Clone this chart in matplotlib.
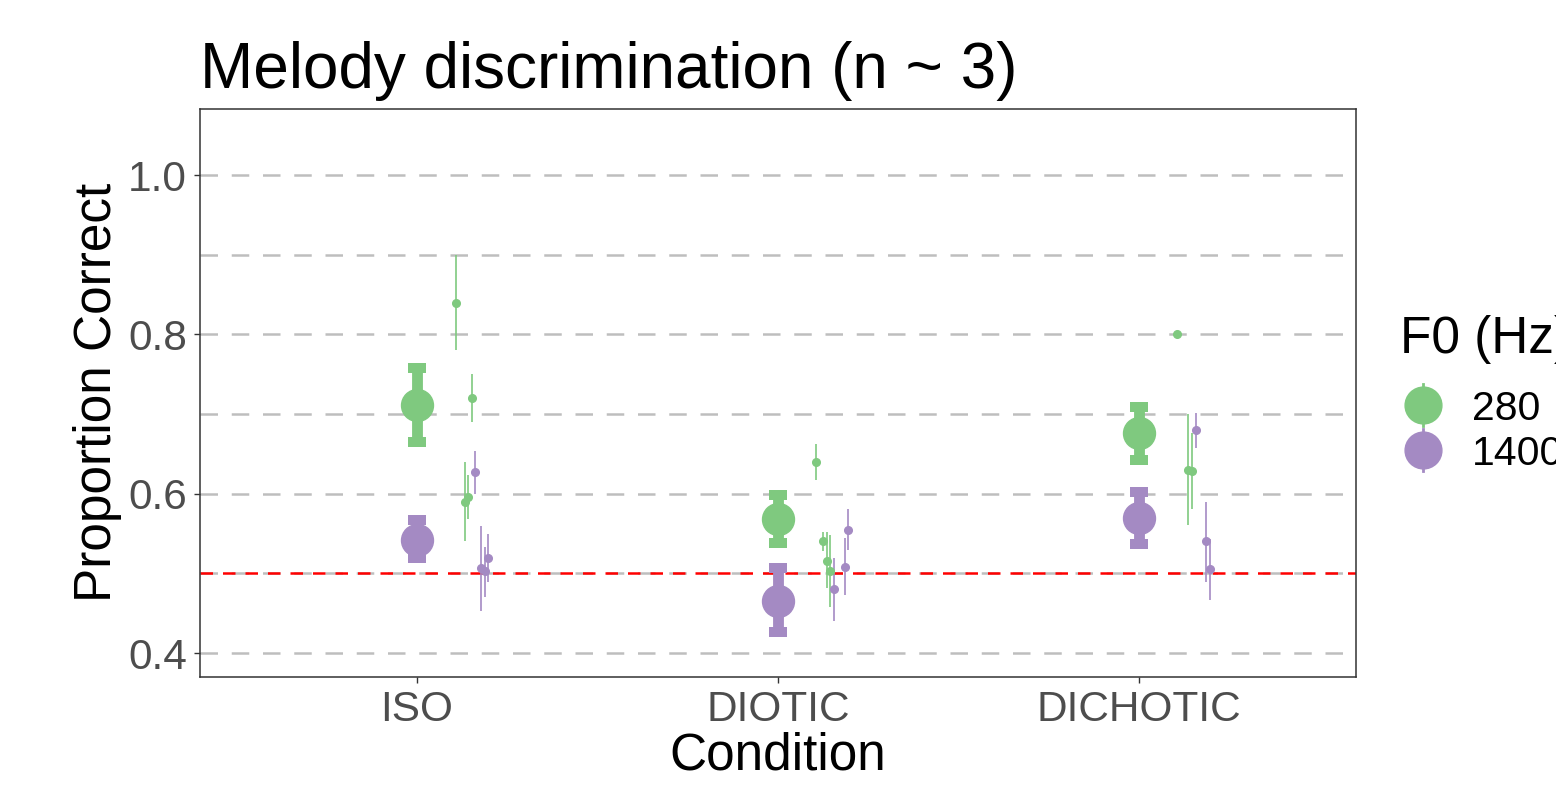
import matplotlib.pyplot as plt
from matplotlib.lines import Line2D
import numpy as np

plt.rcParams['font.family'] = ['Liberation Sans', 'DejaVu Sans']

conditions = ["ISO", "DIOTIC", "DICHOTIC"]
f0_labels = ["280", "1400"]
colours = ["#7FC97F", "#A48AC3"]

# group means with error bar ends
mean_280 = [0.711, 0.568, 0.676]
lo_280 = [0.665, 0.538, 0.643]
hi_280 = [0.758, 0.598, 0.709]
mean_1400 = [0.542, 0.466, 0.569]
lo_1400 = [0.519, 0.426, 0.537]
hi_1400 = [0.567, 0.507, 0.602]

# individual listeners (condition index, jitter, value, low, high)
subj_280_cond = [0, 0, 0, 0, 1, 1, 1, 1, 2, 2, 2]
subj_280_jit = [0.108, 0.152, 0.133, 0.142, 0.105, 0.125, 0.135, 0.144, 0.105, 0.136, 0.147]
subj_280_val = [0.840, 0.720, 0.590, 0.596, 0.640, 0.541, 0.516, 0.503, 0.800, 0.630, 0.628]
subj_280_lo = [0.780, 0.690, 0.541, 0.568, 0.617, 0.528, 0.482, 0.458, 0.800, 0.561, 0.581]
subj_280_hi = [0.900, 0.750, 0.640, 0.623, 0.663, 0.552, 0.552, 0.548, 0.800, 0.700, 0.676]

subj_1400_cond = [0, 0, 0, 0, 1, 1, 1, 2, 2, 2]
subj_1400_jit = [0.161, 0.179, 0.189, 0.197, 0.156, 0.185, 0.194, 0.157, 0.186, 0.195]
subj_1400_val = [0.627, 0.507, 0.503, 0.520, 0.480, 0.508, 0.555, 0.680, 0.541, 0.5055]
subj_1400_lo = [0.600, 0.453, 0.470, 0.489, 0.440, 0.473, 0.530, 0.657, 0.489, 0.4665]
subj_1400_hi = [0.654, 0.559, 0.533, 0.550, 0.520, 0.544, 0.581, 0.702, 0.590, 0.543]

W, H = 1556, 801
fig = plt.figure(figsize=(W / 100, H / 100), dpi=100)
ax = fig.add_axes([200 / W, 1 - 677 / H, 1156 / W, 568 / H])

for v in np.arange(0.4, 1.05, 0.1):
    ax.axhline(v, color="#BEBEBE", lw=1.8, dashes=(7, 5.5), zorder=0)
ax.axhline(0.5, color="red", lw=1.8, dashes=(5, 4), zorder=1)

x = np.arange(1, len(conditions) + 1)
groups = [
    (mean_280, lo_280, hi_280, subj_280_cond, subj_280_jit, subj_280_val, subj_280_lo, subj_280_hi),
    (mean_1400, lo_1400, hi_1400, subj_1400_cond, subj_1400_jit, subj_1400_val, subj_1400_lo, subj_1400_hi),
]
for (m, lo, hi, sc, sj, sv, slo, shi), col in zip(groups, colours):
    m, lo, hi = np.array(m), np.array(lo), np.array(hi)
    ax.errorbar(x, m, yerr=[m - lo, hi - m], fmt='o', color=col, ms=23,
                elinewidth=7.8, capsize=6.5, capthick=7.2, zorder=3)
    sx = x[np.array(sc)] + np.array(sj)
    sv, slo, shi = np.array(sv), np.array(slo), np.array(shi)
    ax.errorbar(sx, sv, yerr=[sv - slo, shi - sv], fmt='o', color=col, ms=5.5,
                elinewidth=1.2, capsize=0, zorder=3)

ax.set_xlim(0.4, 3.6)
ax.set_ylim(0.37, 1.083)
ax.set_xticks(x)
ax.set_xticklabels(conditions)
ax.set_yticks([0.4, 0.6, 0.8, 1.0])
ax.set_yticklabels(["0.4", "0.6", "0.8", "1.0"])
ax.tick_params(axis='both', labelsize=30.5, labelcolor="#4D4D4D", color="#333333",
               length=4.5, width=1, pad=5)
for s in ax.spines.values():
    s.set_color("#333333")
    s.set_linewidth(1.1)

fig.text(200 / W, 1 - 88 / H, "Melody discrimination (n ~ 3)", fontsize=46,
         ha='left', va='baseline')
fig.text(98 / W, 1 - 392 / H, "Proportion Correct", fontsize=37, rotation=90,
         ha='center', va='center')
fig.text(778 / W, 1 - 756 / H, "Condition", fontsize=37, ha='center', va='center')

# legend
fig.text(1400 / W, 1 - 340 / H, "F0 (Hz)", fontsize=37, ha='left', va='center')
for i, (lab, col) in enumerate(zip(f0_labels, colours)):
    yy = 1 - (405 + 45 * i) / H
    fig.add_artist(Line2D([1423 / W, 1423 / W], [yy - 21 / H, yy + 21 / H],
                          color=col, lw=2, transform=fig.transFigure))
    fig.add_artist(Line2D([1423 / W], [yy], marker='o', ms=26.5, color=col,
                          lw=0, transform=fig.transFigure))
    fig.text(1472 / W, yy, lab, fontsize=29.5, ha='left', va='center_baseline')

fig.savefig("out.png", dpi=100)
